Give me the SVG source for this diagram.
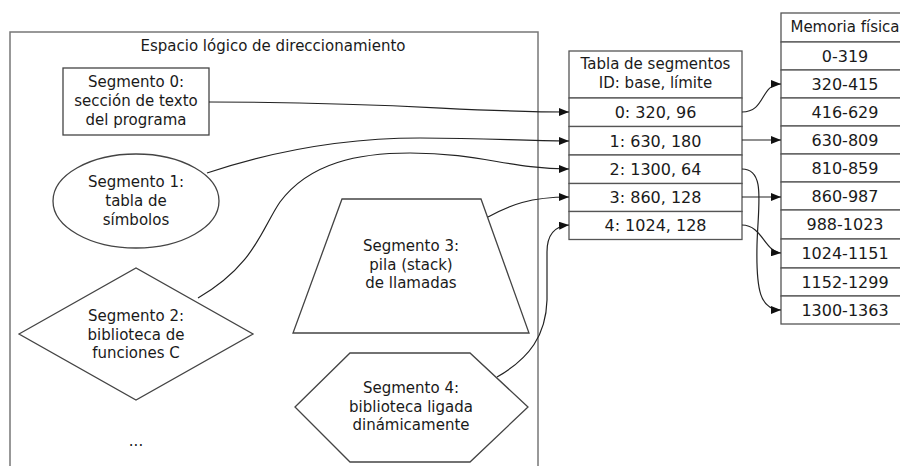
<svg xmlns="http://www.w3.org/2000/svg" width="900" height="466" viewBox="0 0 900 466">
<defs>
<marker id="ah" viewBox="0 0 10 8" refX="10" refY="4" markerWidth="10" markerHeight="8" markerUnits="userSpaceOnUse" orient="auto">
<path d="M0,0 L10,4 L0,8 z" fill="#111"/>
</marker>
<style>
text{font-family:"DejaVu Sans",Verdana,sans-serif;font-size:15px;fill:#1a1a1a;text-anchor:middle}
text.v{font-size:16px}
.shape{fill:#fff;stroke:#444;stroke-width:1.3}
.outer{fill:#fff;stroke:#777;stroke-width:1.5}
.cell{fill:#fff;stroke:#555;stroke-width:1.3}
.conn{fill:none;stroke:#222;stroke-width:1.2;marker-end:url(#ah)}
</style>
</defs>
<rect width="900" height="466" fill="#fff"/>

<g id="espacio">
<rect class="outer" x="10" y="32" width="528" height="460"/>
<text x="273" y="51">Espacio lógico de direccionamiento</text>
<text x="136" y="446">...</text>
</g>

<g id="seg0">
<rect class="shape" x="63" y="68" width="146" height="67"/>
<text x="136" y="87">Segmento 0:</text>
<text x="136" y="106">sección de texto</text>
<text x="136" y="125">del programa</text>
</g>

<g id="seg1">
<ellipse class="shape" cx="136" cy="201" rx="83" ry="47"/>
<text x="136" y="187">Segmento 1:</text>
<text x="136" y="206">tabla de</text>
<text x="136" y="225">símbolos</text>
</g>

<g id="seg2">
<polygon class="shape" points="19,334 136,268 253,334 136,400"/>
<text x="136" y="321">Segmento 2:</text>
<text x="136" y="340">biblioteca de</text>
<text x="136" y="358">funciones C</text>
</g>

<g id="seg3">
<polygon class="shape" points="342,199 481,199 529,333 293,333"/>
<text x="411" y="251">Segmento 3:</text>
<text x="411" y="270">pila (stack)</text>
<text x="411" y="288">de llamadas</text>
</g>

<g id="seg4">
<polygon class="shape" points="295,407 350,353 470,353 528,407 470,462 350,462"/>
<text x="411" y="393">Segmento 4:</text>
<text x="411" y="412">biblioteca ligada</text>
<text x="411" y="430">dinámicamente</text>
</g>

<g id="tabla">
<rect class="cell" x="569" y="51" width="173" height="47"/>
<rect class="cell" x="569" y="98" width="173" height="28.5"/>
<rect class="cell" x="569" y="126.5" width="173" height="28.5"/>
<rect class="cell" x="569" y="155" width="173" height="28.5"/>
<rect class="cell" x="569" y="183.5" width="173" height="28"/>
<rect class="cell" x="569" y="211.5" width="173" height="28"/>
<text x="655.5" y="69">Tabla de segmentos</text>
<text x="655.5" y="88">ID: base, límite</text>
<text class="v" x="655.5" y="118">0: 320, 96</text>
<text class="v" x="655.5" y="146.5">1: 630, 180</text>
<text class="v" x="655.5" y="175">2: 1300, 64</text>
<text class="v" x="655.5" y="203">3: 860, 128</text>
<text class="v" x="655.5" y="231">4: 1024, 128</text>
</g>

<g id="memoria">
<rect class="cell" x="781" y="13" width="130" height="29"/>
<rect class="cell" x="781" y="42" width="130" height="28"/>
<rect class="cell" x="781" y="70" width="130" height="28"/>
<rect class="cell" x="781" y="98" width="130" height="28"/>
<rect class="cell" x="781" y="126" width="130" height="28"/>
<rect class="cell" x="781" y="154" width="130" height="28"/>
<rect class="cell" x="781" y="182" width="130" height="28"/>
<rect class="cell" x="781" y="210" width="130" height="29"/>
<rect class="cell" x="781" y="239" width="130" height="29"/>
<rect class="cell" x="781" y="268" width="130" height="28"/>
<rect class="cell" x="781" y="296" width="130" height="28"/>
<text x="845" y="32">Memoria física</text>
<text class="v" x="845" y="61.5">0-319</text>
<text class="v" x="845" y="89.5">320-415</text>
<text class="v" x="845" y="117.5">416-629</text>
<text class="v" x="845" y="145.5">630-809</text>
<text class="v" x="845" y="173.5">810-859</text>
<text class="v" x="845" y="201.5">860-987</text>
<text class="v" x="845" y="230">988-1023</text>
<text class="v" x="845" y="259">1024-1151</text>
<text class="v" x="845" y="287.5">1152-1299</text>
<text class="v" x="845" y="315.5">1300-1363</text>
</g>

<g id="connectors">
<path class="conn" d="M209,102 C 400,102 460,112 569,112"/>
<path class="conn" d="M207,173 C 270,152 340,138 420,138 C 490,138 520,141 569,141"/>
<path class="conn" d="M198,298 C 255,265 262,228 280,202 C 310,162 360,153 410,153 C 480,153 510,169 569,169"/>
<path class="conn" d="M488,217 C 510,205 530,197 569,197"/>
<path class="conn" d="M497,377 C 530,358 546,335 547,300 L 547,252 C 547,235 555,226 569,225"/>
<path class="conn" d="M742,112 C 766,112 760,84 781,84"/>
<path class="conn" d="M742,140 L 781,140"/>
<path class="conn" d="M742,169 C 766,169 758,205 757,245 C 756,290 760,310 781,310"/>
<path class="conn" d="M742,197 L 781,197"/>
<path class="conn" d="M742,225 C 762,225 765,252 781,253"/>
</g>
</svg>
